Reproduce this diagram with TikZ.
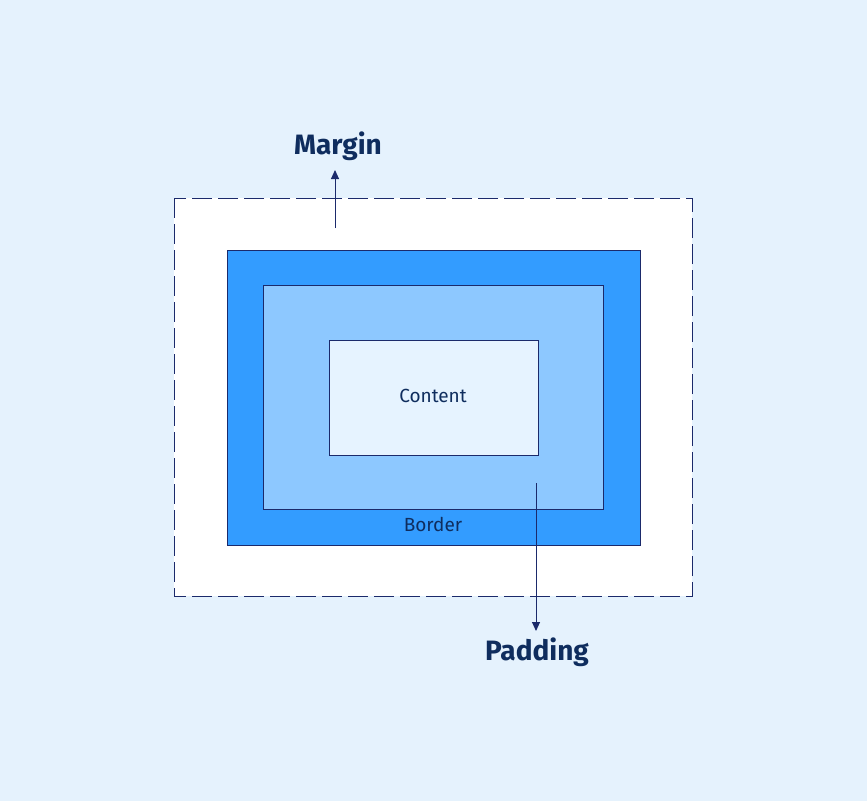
\documentclass[tikz,border=0pt]{standalone}
\usepackage{fontspec}
\setmainfont{Fira Sans}
\usetikzlibrary{arrows.meta}
\definecolor{bg}{HTML}{E5F2FD}
\definecolor{navy}{HTML}{1B2A6B}
\definecolor{txt}{HTML}{0F2D5E}
\definecolor{borderblue}{HTML}{339CFF}
\definecolor{padblue}{HTML}{8DC8FF}
\definecolor{contentbg}{HTML}{E6F3FF}
\tikzset{
  box/.style={draw=navy, line width=0.9pt, inner sep=0pt, outer sep=0pt},
  biglabel/.style={text=txt, font=\fontsize{28}{32}\selectfont\bfseries, inner sep=0pt},
  smalllabel/.style={text=txt, font=\fontsize{19}{22}\selectfont, inner sep=0pt},
  pointer/.style={draw=navy, line width=1pt, -{Triangle[length=9pt,width=8pt]}}
}
\begin{document}
\begin{tikzpicture}[x=1pt,y=-1pt]
\fill[bg] (0,0) rectangle (867,801);
\useasboundingbox (0,0) rectangle (867,801);
\draw[fill=white, draw=navy, line width=1pt, dash pattern=on 20pt off 6pt] (174,198) rectangle (692,596);
\node[box, fill=borderblue, minimum width=413pt, minimum height=295pt, anchor=north west] (border) at (227,250) {};
\node[box, fill=padblue, minimum width=340pt, minimum height=224pt, anchor=north west] (padding) at (263,285) {};
\node[box, fill=contentbg, minimum width=209pt, minimum height=115pt, anchor=north west] (content) at (329,340) {};
\node[smalllabel] (ctext) at (433,396) {Content};
\node[smalllabel] (btext) at (433,524) {Border};
\node[biglabel] (margin) at (338,146) {Margin};
\node[biglabel] (pad) at (537,652) {Padding};
\coordinate (mstart) at (335,228);
\coordinate (mend) at (335,170);
\coordinate (pstart) at (536,483);
\coordinate (pend) at (536,631);
\draw[pointer] (mstart) -- (mend);
\draw[pointer] (pstart) -- (pend);
\end{tikzpicture}
\end{document}
